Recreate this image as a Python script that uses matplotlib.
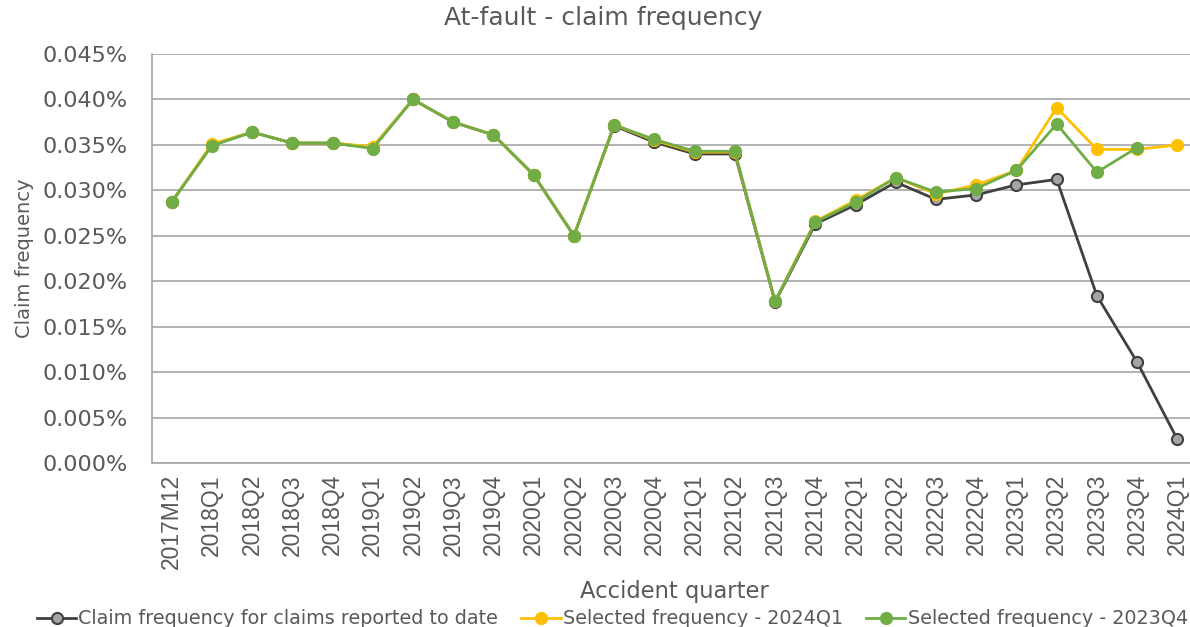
import matplotlib.pyplot as plt
from matplotlib.ticker import PercentFormatter, MultipleLocator

# values in percent
quarters = ["2017M12",
            "2018Q1", "2018Q2", "2018Q3", "2018Q4",
            "2019Q1", "2019Q2", "2019Q3", "2019Q4",
            "2020Q1", "2020Q2", "2020Q3", "2020Q4",
            "2021Q1", "2021Q2", "2021Q3", "2021Q4",
            "2022Q1", "2022Q2", "2022Q3", "2022Q4",
            "2023Q1", "2023Q2", "2023Q3", "2023Q4",
            "2024Q1"]

reported_to_date = [0.0287, 0.0350, 0.0364, 0.0352, 0.0352, 0.0347, 0.0400, 0.0375,
                    0.0361, 0.0317, 0.0250, 0.0371, 0.0353, 0.0340, 0.0340, 0.0177,
                    0.0263, 0.0284, 0.0309, 0.0290, 0.0295, 0.0306, 0.0312, 0.0184,
                    0.0111, 0.0026]

selected_2024q1 = [0.0287, 0.0351, 0.0364, 0.0352, 0.0352, 0.0348, 0.0400, 0.0375,
                   0.0361, 0.0317, 0.0250, 0.0372, 0.0355, 0.0342, 0.0342, 0.0178,
                   0.0266, 0.0289, 0.0314, 0.0296, 0.0306, 0.0322, 0.0391, 0.0345,
                   0.0345, 0.0350]

selected_2023q4 = [0.0287, 0.0349, 0.0364, 0.0352, 0.0352, 0.0346, 0.0400, 0.0375,
                   0.0361, 0.0317, 0.0250, 0.0372, 0.0356, 0.0343, 0.0343, 0.0178,
                   0.0265, 0.0287, 0.0314, 0.0298, 0.0302, 0.0322, 0.0373, 0.0320,
                   0.0347]

text_col = "#595959"

fig = plt.figure(figsize=(11.9, 6.27), dpi=100)
ax = fig.add_axes([151.5 / 1190, 164 / 627, 1046 / 1190, 409 / 627])

x = list(range(len(quarters)))
ax.plot(x, reported_to_date, color="#404040", lw=2, marker="o", ms=8,
        mfc="#A5A5A5", mec="#404040", mew=1.5, zorder=3,
        label="Claim frequency for claims reported to date")
ax.plot(x, selected_2024q1, color="#FFC000", lw=2, marker="o", ms=8.5,
        mfc="#FFC000", mec="#FFC000", zorder=4,
        label="Selected frequency - 2024Q1")
ax.plot(range(len(selected_2023q4)), selected_2023q4, color="#70AD47", lw=2,
        marker="o", ms=8.5, mfc="#70AD47", mec="#70AD47", zorder=5,
        label="Selected frequency - 2023Q4")

ax.set_xlim(-0.5, len(quarters) - 0.5)
ax.set_ylim(0, 0.045)
ax.yaxis.set_major_locator(MultipleLocator(0.005))
ax.yaxis.set_major_formatter(PercentFormatter(xmax=100, decimals=3))
ax.grid(axis="y", color="#A6A6A6", lw=1.2)
ax.set_axisbelow(True)

ax.set_xticks(x)
ax.set_xticklabels(quarters, rotation=90, fontsize=16.5,
                   family=["Liberation Sans", "DejaVu Sans"], color=text_col)
ax.tick_params(axis="x", length=0, pad=8)
ax.tick_params(axis="y", length=0, pad=17, labelsize=16, labelcolor=text_col)

for s in ["top", "right"]:
    ax.spines[s].set_visible(False)
for s in ["left", "bottom"]:
    ax.spines[s].set_color("#A6A6A6")
    ax.spines[s].set_linewidth(1.2)

ax.set_ylabel("Claim frequency", fontsize=14, color=text_col)
ax.yaxis.set_label_coords(-0.112, 0.5)
ax.set_xlabel("Accident quarter", fontsize=16.3, color=text_col)
ax.xaxis.set_label_coords(0.5, -0.285)

fig.text(0.507, 0.972, "At-fault - claim frequency", ha="center", va="center",
         fontsize=18, color=text_col)

fig.legend(loc="center left", bbox_to_anchor=(0.031, 0.013), ncol=3,
           frameon=False, handlelength=2.05, handletextpad=0.12,
           columnspacing=1.2, prop={"size": 13.8},
           labelcolor=text_col, borderaxespad=0, borderpad=0)

fig.savefig("out.png", dpi=100)
